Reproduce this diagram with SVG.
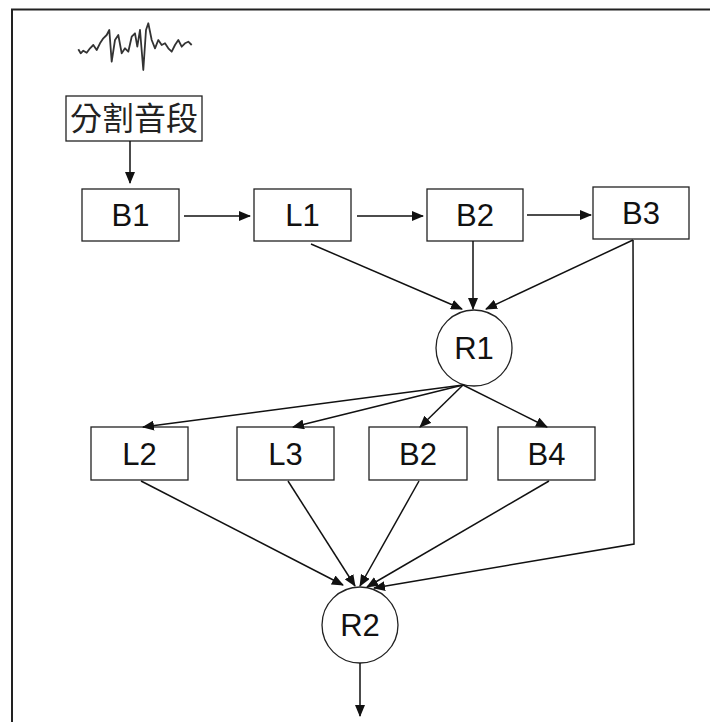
<svg xmlns="http://www.w3.org/2000/svg" width="710" height="722" viewBox="0 0 710 722">
  <style>
    .box { fill: #fff; stroke: #222; stroke-width: 1.3; }
    .lbl { font-family: "Liberation Sans", Arial, sans-serif; font-size: 31px; fill: #111; text-anchor: middle; }
    .cjk { font-family: "Noto Sans CJK TC", "Noto Sans CJK SC", sans-serif; font-size: 32px; fill: #222; text-anchor: middle; }
    .edge { fill: none; stroke: #111; stroke-width: 1.5; }
  </style>
  <defs>
    <marker id="arrow" markerUnits="userSpaceOnUse" markerWidth="12" markerHeight="10" refX="11" refY="5" orient="auto">
      <path d="M0,0 L12,5 L0,10 Z" fill="#111"/>
    </marker>
  </defs>

  <rect width="710" height="722" fill="#fff"/>
  <!-- frame (top and left edges) -->
  <path d="M12,722 L12,9.5 L710,9.5" fill="none" stroke="#222" stroke-width="2"/>

  <!-- speech waveform -->
  <g id="waveform">
    <polyline fill="none" stroke="#333" stroke-width="1.8" stroke-linejoin="round"
      points="78.3,49.3 80.7,53.3 83.3,50.7 86.7,52.7 90,48.3 93.3,45 96.7,50 100,43.3 103.3,38.3 106.7,35 109.3,30 111.7,61.7 115,40 118.3,35 121.7,53.3 125,48.3 128.3,51.7 131.7,36.7 135,33.3 137.3,46.7 140,30 143.3,70 146,30 148.3,23.3 151.7,40 155,48.3 158.3,40 161.7,45 165,43.3 168.3,48.3 171.7,51.7 175,45 178.3,40 181.7,46.7 185,43.3 188.3,41.7 191.7,45"/>
  </g>

  <g id="segment">
    <rect class="box" x="66" y="96" width="136" height="45"/>
    <text class="cjk" x="134" y="130">分割音段</text>
  </g>

  <g id="B1">
    <rect class="box" x="82" y="189" width="97" height="52"/>
    <text class="lbl" x="130.5" y="226">B1</text>
  </g>
  <g id="L1">
    <rect class="box" x="254" y="189" width="97" height="52"/>
    <text class="lbl" x="302.5" y="226">L1</text>
  </g>
  <g id="B2-top">
    <rect class="box" x="427" y="189" width="96" height="52"/>
    <text class="lbl" x="475" y="226">B2</text>
  </g>
  <g id="B3">
    <rect class="box" x="593" y="187" width="96" height="52"/>
    <text class="lbl" x="641" y="224">B3</text>
  </g>

  <g id="R1">
    <circle class="box" cx="474" cy="348" r="38"/>
    <text class="lbl" x="474" y="359">R1</text>
  </g>

  <g id="L2">
    <rect class="box" x="91" y="427" width="97" height="53"/>
    <text class="lbl" x="139.5" y="465">L2</text>
  </g>
  <g id="L3">
    <rect class="box" x="237" y="427" width="97" height="53"/>
    <text class="lbl" x="285.5" y="465">L3</text>
  </g>
  <g id="B2-mid">
    <rect class="box" x="369" y="427" width="98" height="53"/>
    <text class="lbl" x="418" y="465">B2</text>
  </g>
  <g id="B4">
    <rect class="box" x="498" y="427" width="97" height="53"/>
    <text class="lbl" x="546.5" y="465">B4</text>
  </g>

  <g id="R2">
    <circle class="box" cx="360" cy="625" r="38"/>
    <text class="lbl" x="360" y="636">R2</text>
  </g>

  <g id="connectors">
    <line class="edge" x1="130" y1="141" x2="130" y2="183" marker-end="url(#arrow)"/>
    <line class="edge" x1="184" y1="216" x2="250" y2="216" marker-end="url(#arrow)"/>
    <line class="edge" x1="357" y1="216" x2="423" y2="216" marker-end="url(#arrow)"/>
    <line class="edge" x1="527" y1="215" x2="591" y2="215" marker-end="url(#arrow)"/>

    <line class="edge" x1="311" y1="244" x2="462" y2="309" marker-end="url(#arrow)"/>
    <line class="edge" x1="473" y1="241" x2="473" y2="309" marker-end="url(#arrow)"/>
    <line class="edge" x1="633" y1="240" x2="486" y2="309" marker-end="url(#arrow)"/>

    <line class="edge" x1="463" y1="385" x2="143" y2="427" marker-end="url(#arrow)"/>
    <line class="edge" x1="463" y1="385" x2="293" y2="427" marker-end="url(#arrow)"/>
    <line class="edge" x1="463" y1="385" x2="420" y2="427" marker-end="url(#arrow)"/>
    <line class="edge" x1="463" y1="385" x2="547" y2="427" marker-end="url(#arrow)"/>

    <line class="edge" x1="141" y1="481" x2="343" y2="585" marker-end="url(#arrow)"/>
    <line class="edge" x1="288" y1="481" x2="355" y2="586" marker-end="url(#arrow)"/>
    <line class="edge" x1="419" y1="481" x2="360" y2="586" marker-end="url(#arrow)"/>
    <line class="edge" x1="549" y1="481" x2="367" y2="587" marker-end="url(#arrow)"/>
    <polyline class="edge" points="633,240 634,544 374,588" marker-end="url(#arrow)"/>

    <line class="edge" x1="360" y1="663" x2="360" y2="716" marker-end="url(#arrow)"/>
  </g>
</svg>
